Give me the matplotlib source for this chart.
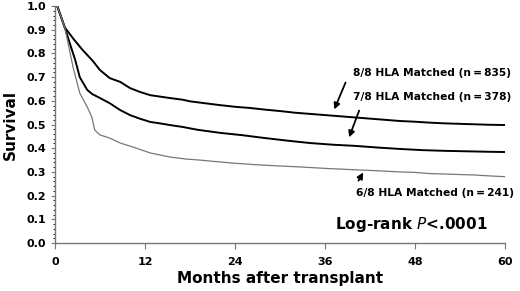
import matplotlib
matplotlib.use('Agg')
import matplotlib.pyplot as plt
from matplotlib.ticker import MultipleLocator

# Kaplan-Meier survival (months, survival)
t88 = [0, 0.3, 1.3, 2.5, 3.7, 5, 6, 7.3, 8.7, 10, 11.3, 12.7, 14, 15.3, 17, 18, 20, 22, 24,
       26, 28, 30, 32, 34, 36, 38, 40, 42, 44, 46, 48, 50, 52, 54, 56, 58, 60]
s88 = [1.0, 1.0, 0.91, 0.86, 0.814, 0.77, 0.73, 0.696, 0.68, 0.654, 0.638, 0.624, 0.618, 0.612,
       0.605, 0.598, 0.59, 0.582, 0.575, 0.57, 0.563, 0.557, 0.55, 0.545, 0.54, 0.535, 0.53,
       0.525, 0.52, 0.515, 0.512, 0.508, 0.505, 0.503, 0.501, 0.499, 0.498]

t78 = [0, 0.3, 1.3, 2.0, 2.7, 3.3, 4.3, 5, 6, 7.3, 8.7, 10, 11.3, 12.7, 14, 15.3, 17, 19, 22,
       25, 28, 31, 34, 37, 40, 43, 46, 49, 52, 55, 58, 60]
s78 = [1.0, 1.0, 0.91, 0.84, 0.772, 0.70, 0.646, 0.628, 0.612, 0.59, 0.561, 0.54, 0.525, 0.511,
       0.505, 0.498, 0.49, 0.478, 0.465, 0.455, 0.443, 0.432, 0.422, 0.415, 0.41, 0.403, 0.397,
       0.392, 0.389, 0.387, 0.385, 0.384]

t68 = [0, 0.3, 1.3, 1.9, 2.4, 3.3, 4.3, 4.9, 5.3, 6, 7.3, 8.7, 10.4, 12.7, 15.3, 17.6, 19.3, 21,
       23.8, 27, 30, 32.7, 36, 38, 40.7, 43, 46, 48, 50, 53, 56, 58, 60]
s68 = [1.0, 1.0, 0.91, 0.82, 0.743, 0.633, 0.574, 0.532, 0.477, 0.456, 0.443, 0.422, 0.405, 0.38,
       0.363, 0.354, 0.35, 0.345, 0.337, 0.33, 0.325, 0.321, 0.315, 0.312, 0.308, 0.305, 0.30,
       0.298, 0.293, 0.29, 0.287, 0.283, 0.28]

xticks = [0, 12, 24, 36, 48, 60]
yticks = [0.0, 0.1, 0.2, 0.3, 0.4, 0.5, 0.6, 0.7, 0.8, 0.9, 1.0]

fig = plt.figure(figsize=(5.2, 2.91), dpi=100)
ax = fig.add_axes([0.1058, 0.165, 0.865, 0.814])

ax.plot(t88, s88, color='black', lw=1.4)
ax.plot(t78, s78, color='black', lw=1.4)
ax.plot(t68, s68, color='#777777', lw=0.9)

ax.set_xlim(0, 60)
ax.set_ylim(0, 1.0)
ax.set_xticks(xticks)
ax.set_yticks(yticks)
ax.set_yticklabels(['%.1f' % v for v in yticks])
ax.yaxis.set_minor_locator(MultipleLocator(0.02))
ax.tick_params(axis='both', labelsize=8, colors='#777777', labelcolor='black', width=0.8)
ax.tick_params(axis='y', which='major', length=3)
ax.tick_params(axis='y', which='minor', length=1.5, width=0.6)
ax.tick_params(axis='x', length=4, pad=6)
for lab in ax.get_xticklabels() + ax.get_yticklabels():
    lab.set_fontweight('bold')

for s in ['top', 'right']:
    ax.spines[s].set_visible(False)
for s in ['left', 'bottom']:
    ax.spines[s].set_color('#777777')
    ax.spines[s].set_linewidth(1.0)

ax.set_ylabel('Survival', fontsize=11, fontweight='bold', labelpad=6)
ax.set_xlabel('Months after transplant', fontsize=11, fontweight='bold', labelpad=3)

kw = dict(fontsize=7.7, fontweight='bold', va='center', ha='left')
ax.text(39.7, 0.717, '8/8 HLA Matched (n\u2009=\u2009835)', **kw)
ax.text(39.7, 0.616, '7/8 HLA Matched (n\u2009=\u2009378)', **kw)
ax.text(40.1, 0.211, '6/8 HLA Matched (n\u2009=\u2009241)', **kw)
ax.text(37.3, 0.076, 'Log-rank $\\mathit{P}$<.0001', fontsize=11, fontweight='bold',
        va='center', ha='left')

arr = dict(arrowstyle='-|>', color='black', lw=1.3, mutation_scale=9)
ax.annotate('', xy=(37.1, 0.553), xytext=(38.9, 0.688), arrowprops=arr)
ax.annotate('', xy=(39.1, 0.435), xytext=(40.7, 0.570), arrowprops=arr)
ax.annotate('', xy=(41.3, 0.308), xytext=(40.3, 0.253), arrowprops=arr)

plt.savefig('out.png', dpi=100)
